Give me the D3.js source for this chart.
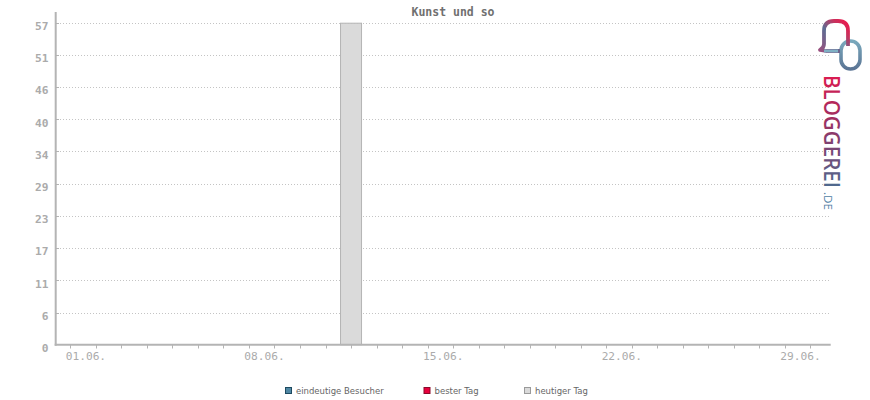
<!DOCTYPE html>
<html>
<head>
<meta charset="utf-8">
<script src="https://cdn.jsdelivr.net/npm/d3@7"></script>
<style>
html,body{margin:0;padding:0;background:#fff;}
svg{display:block;}
</style>
</head>
<body>
<svg id="chart" width="870" height="400"></svg>
<script>
// ---- data ----
const title = "Kunst und so";
const days = ["01.06.","02.06.","03.06.","04.06.","05.06.","06.06.","07.06.","08.06.","09.06.","10.06.",
              "11.06.","12.06.","13.06.","14.06.","15.06.","16.06.","17.06.","18.06.","19.06.","20.06.",
              "21.06.","22.06.","23.06.","24.06.","25.06.","26.06.","27.06.","28.06.","29.06.","30.06."];
const eindeutigeBesucher = [0,0,0,0,0,0,0,0,0,0,0,0,0,0,0,0,0,0,0,0,0,0,0,0,0,0,0,0,0,0];
const heutigerTagDay = ["12.06."];
const heutigerTagValue = [57];
const xTickLabels = ["01.06.","08.06.","15.06.","22.06.","29.06."];
const yTickLabels = ["0","6","11","17","23","29","34","40","46","51","57"];
const yMax = 57;
const legendNames = ["eindeutige Besucher","bester Tag","heutiger Tag"];
const legendColors = ["#4f87a3","#e8003d","#dadada"];
const legendStrokes = ["#1d4a60","#8a0a2a","#9a9a9a"];

// ---- scales ----
const svg = d3.select("#chart");
const x = d3.scalePoint().domain(days).range([70.3, 810.4]);
const y = d3.scaleLinear().domain([0, yMax]).range([344.7, 22.7]);
const axisColor = "#b4b4b4";
const labelColor = "#ababab";
const monoFont = "'DejaVu Sans Mono', 'Liberation Mono', monospace";

// gridlines
const yTickVals = yTickLabels.map((d, i) => i * yMax / (yTickLabels.length - 1));
svg.append("g").selectAll("line").data(yTickVals.slice(1)).join("line")
  .attr("x1", 57).attr("x2", 830)
  .attr("y1", d => Math.round(y(d)) + 0.5).attr("y2", d => Math.round(y(d)) + 0.5)
  .attr("stroke", "#c4c4c4").attr("stroke-width", 1).attr("stroke-dasharray", "1,2");
svg.append("g").selectAll("line").data(yTickVals.slice(1)).join("line")
  .attr("x1", 56).attr("x2", 59)
  .attr("y1", d => Math.round(y(d)) + 0.5).attr("y2", d => Math.round(y(d)) + 0.5)
  .attr("stroke", axisColor).attr("stroke-width", 1);

// bars: eindeutige Besucher (all zero) and heutiger Tag
const barW = 22;
svg.append("g").selectAll("rect").data(eindeutigeBesucher.map((v, i) => ({d: days[i], v})).filter(o => o.v > 0)).join("rect")
  .attr("x", o => x(o.d) - barW / 2).attr("width", barW)
  .attr("y", o => y(o.v)).attr("height", o => y(0) - y(o.v))
  .attr("fill", legendColors[0]).attr("stroke", legendStrokes[0]);
svg.append("g").selectAll("rect").data(heutigerTagDay.map((d, i) => ({d, v: heutigerTagValue[i]}))).join("rect")
  .attr("x", o => x(o.d) - barW / 2 + 0.5).attr("width", barW - 1)
  .attr("y", o => y(o.v) + 0.5).attr("height", o => y(0) - y(o.v) - 0.5)
  .attr("fill", "#dadada").attr("stroke", "#b4b4b4").attr("stroke-width", 1);

// axes lines
svg.append("line").attr("x1", 55.7).attr("x2", 55.7).attr("y1", 12).attr("y2", 345.7)
  .attr("stroke", axisColor).attr("stroke-width", 2);
svg.append("line").attr("x1", 54.7).attr("x2", 830.7).attr("y1", 344.7).attr("y2", 344.7)
  .attr("stroke", axisColor).attr("stroke-width", 2);

// x tick marks
svg.append("g").selectAll("line").data(days).join("line")
  .attr("x1", d => Math.round(x(d)) + 0.5).attr("x2", d => Math.round(x(d)) + 0.5)
  .attr("y1", 345).attr("y2", 348.5)
  .attr("stroke", axisColor).attr("stroke-width", 1);

// x labels
svg.append("g").selectAll("text").data(xTickLabels).join("text")
  .attr("x", d => x(d) - 4.6).attr("y", 360)
  .attr("font-family", monoFont).attr("font-size", 11.2)
  .attr("fill", labelColor).text(d => d);

// y labels
svg.append("g").selectAll("text").data(yTickLabels).join("text")
  .attr("x", 48.5).attr("y", (d, i) => y(yTickVals[i]) + 7.3)
  .attr("text-anchor", "end")
  .attr("font-family", monoFont).attr("font-size", 11.2).attr("font-weight", "bold")
  .attr("fill", labelColor).text(d => d);

// title
svg.append("text").attr("x", 453).attr("y", 16).attr("text-anchor", "middle")
  .attr("font-family", monoFont).attr("font-size", 11.5).attr("font-weight", "bold")
  .attr("fill", "#707070").text(title);

// legend
const legendX = [285, 423.5, 524];
const lg = svg.append("g").selectAll("g").data(legendNames).join("g")
  .attr("transform", (d, i) => `translate(${legendX[i]},387)`);
lg.append("rect").attr("x", 0.5).attr("y", 0.5).attr("width", 6).attr("height", 6)
  .attr("fill", (d, i) => legendColors[i]).attr("stroke", (d, i) => legendStrokes[i]).attr("stroke-width", 1);
lg.append("text").attr("x", 11).attr("y", 6.8)
  .attr("font-family", "'DejaVu Sans', Verdana, sans-serif").attr("font-size", 8.5)
  .attr("fill", "#666").text(d => d);

// ---- BLOGGEREI.DE logo ----
const defs = svg.append("defs");
const g1 = defs.append("linearGradient").attr("id", "gArch").attr("x1", "0").attr("y1", "1").attr("x2", "1").attr("y2", "0");
g1.append("stop").attr("offset", "0%").attr("stop-color", "#9a4f7e");
g1.append("stop").attr("offset", "45%").attr("stop-color", "#5d6d93");
g1.append("stop").attr("offset", "75%").attr("stop-color", "#c8325e");
g1.append("stop").attr("offset", "100%").attr("stop-color", "#f0154a");
const g2 = defs.append("linearGradient").attr("id", "gLoop").attr("x1", "0").attr("y1", "0").attr("x2", "0").attr("y2", "1");
g2.append("stop").attr("offset", "0%").attr("stop-color", "#7aa9bd");
g2.append("stop").attr("offset", "100%").attr("stop-color", "#5b7595");
// gradient in the text's own (rotated) frame: runs along the text direction
const g3 = defs.append("linearGradient").attr("id", "gText")
  .attr("gradientUnits", "userSpaceOnUse").attr("x1", 0).attr("y1", 0).attr("x2", 113).attr("y2", 0);
g3.append("stop").attr("offset", "0%").attr("stop-color", "#dc1b50");
g3.append("stop").attr("offset", "35%").attr("stop-color", "#a52d5f");
g3.append("stop").attr("offset", "65%").attr("stop-color", "#7a4574");
g3.append("stop").attr("offset", "100%").attr("stop-color", "#4d6b8f");

const logo = svg.append("g");
// right loop
logo.append("rect").attr("x", 841).attr("y", 41).attr("width", 19).attr("height", 28).attr("rx", 9.5)
  .attr("fill", "none").attr("stroke", "url(#gLoop)").attr("stroke-width", 3.6);
// left arch (speech bubble)
logo.append("path")
  .attr("d", "M 848 46 L 848 31 Q 848 21 838 21 L 834 21 Q 824 21 824 31 L 824 44 Q 824 48 820 50 L 826 51 L 840 51")
  .attr("fill", "none").attr("stroke", "url(#gArch)").attr("stroke-width", 3.8).attr("stroke-linejoin", "round");
logo.append("path").attr("d", "M 824 51 L 838 51").attr("stroke", "#7fb0c4").attr("stroke-width", 3);
// text
logo.append("text").attr("transform", "translate(824,75) rotate(90)")
  .attr("font-family", "'Open Sans', 'DejaVu Sans', sans-serif").attr("font-size", 21).attr("font-weight", 600)
  .attr("textLength", 113).attr("lengthAdjust", "spacingAndGlyphs")
  .attr("fill", "url(#gText)").text("BLOGGEREI");
logo.append("text").attr("transform", "translate(824,192) rotate(90)")
  .attr("font-family", "'Open Sans', 'DejaVu Sans', sans-serif").attr("font-size", 11).attr("font-weight", 400)
  .attr("textLength", 18).attr("lengthAdjust", "spacingAndGlyphs")
  .attr("fill", "#4f7ea4").text(".DE");
</script>
</body>
</html>
